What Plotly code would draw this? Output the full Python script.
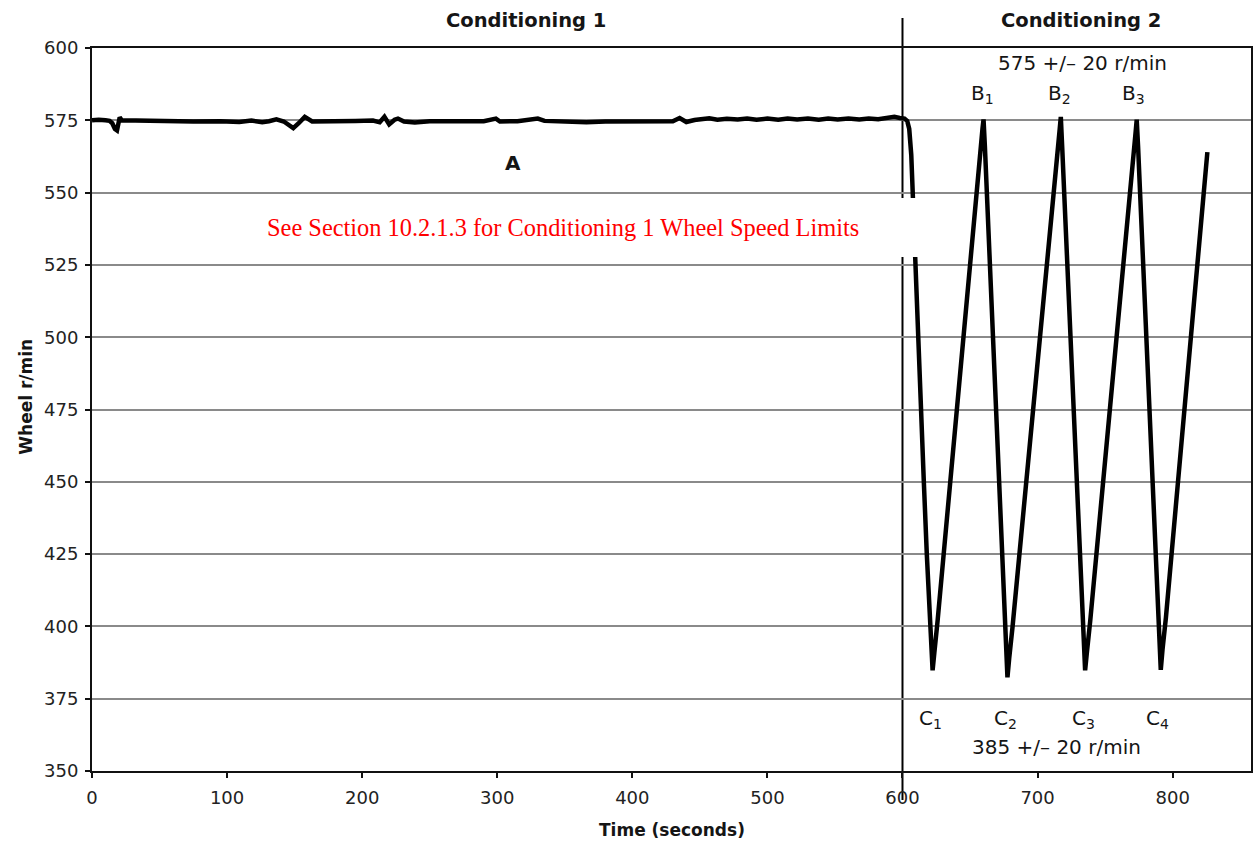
import plotly.graph_objects as go

# ---- data ----
time_s = [
    0, 5, 10, 13, 15, 17, 18.5, 19.5, 20.5, 22, 30, 45, 58, 75, 95, 109, 118, 126, 131,
    136.5, 142, 149, 153, 157.5, 163, 175, 195, 208, 213, 216.5, 220, 224, 226.5, 231,
    239, 250, 270, 290, 299, 302, 315, 330, 335, 350, 366, 380, 400, 420, 430, 435, 440,
    446, 452, 457, 463, 470, 478, 485, 492, 500, 508, 515, 522, 530, 538, 545, 552, 560,
    568, 575, 582, 590, 594, 598, 601.5, 603.5, 605, 606.5, 607.5, 610, 612, 613.8,
    615.8, 618, 620, 621.3, 622.3, 623.6, 626,
    659.2, 660.0, 661.0,
    676.6, 677.7, 679.0, 681.5,
    716.4, 717.2, 718.2,
    734.1, 735.2, 736.5, 739,
    772.6, 773.4, 774.4,
    790.1, 791.2, 792.5, 795,
    825.7,
]
wheel_rpm = [
    575.0, 575.2, 575.0, 574.8, 574.0, 572.0, 571.5, 574.0, 576.0, 575.0, 574.9, 574.8,
    574.5, 574.6, 574.7, 574.4, 574.9, 574.3, 574.7, 575.3, 574.6, 572.3, 574.0, 576.2,
    574.6, 574.8, 574.8, 574.9, 574.3, 576.2, 573.6, 575.2, 575.6, 574.6, 574.2, 574.7,
    574.8, 574.7, 575.6, 574.6, 574.7, 575.6, 574.8, 574.7, 574.3, 574.6, 574.7, 574.7,
    574.7, 575.8, 574.4, 575.1, 575.4, 575.7, 575.2, 575.5, 575.3, 575.6, 575.2, 575.6,
    575.2, 575.6, 575.3, 575.6, 575.2, 575.6, 575.3, 575.6, 575.3, 575.6, 575.4, 575.7,
    576.2, 575.8, 575.6, 574.8, 572.0, 563.0, 550.0, 525.0, 500.0, 475.0, 450.0, 425.0,
    405.0, 392.0, 384.8, 391.0, 402.0,
    572.0, 575.3, 566.0,
    392.0, 382.4, 389.0, 400.0,
    572.0, 576.2, 566.0,
    394.0, 384.8, 391.0, 402.0,
    571.0, 575.2, 566.0,
    394.0, 385.0, 392.0, 403.0,
    564.0,
]

x_ticks = [0, 100, 200, 300, 400, 500, 600, 700, 800]
y_ticks = [350, 375, 400, 425, 450, 475, 500, 525, 550, 575, 600]

phase_labels = ["Conditioning 1", "Conditioning 2"]
phase_label_x = [321, 732]
phase_boundary = 600

peak_labels = ["B<sub>1</sub>", "B<sub>2</sub>", "B<sub>3</sub>"]
peak_x = [659, 716, 771]
trough_labels = ["C<sub>1</sub>", "C<sub>2</sub>", "C<sub>3</sub>", "C<sub>4</sub>"]
trough_x = [621, 676, 734, 789]
upper_limit_text = "575 +/\u2013 20 r/min"
lower_limit_text = "385 +/\u2013 20 r/min"
note_text = "See Section 10.2.1.3 for Conditioning 1 Wheel Speed Limits"

FONT = "DejaVu Sans"
TXT = "#151515"

fig = go.Figure()
fig.add_trace(go.Scatter(
    x=time_s, y=wheel_rpm, mode="lines",
    line=dict(color="black", width=4.5),
    showlegend=False, hoverinfo="skip",
))

annotations = []
for txt, xx in zip(phase_labels, phase_label_x):
    annotations.append(dict(x=xx, xref="x", y=1.0387, yref="paper", text="<b>%s</b>" % txt,
                            showarrow=False, font=dict(family=FONT, size=19.5, color=TXT),
                            xanchor="center", yanchor="middle"))
for txt, xx in zip(peak_labels, peak_x):
    annotations.append(dict(x=xx, y=584, text=txt, showarrow=False,
                            font=dict(family=FONT, size=20, color=TXT),
                            xanchor="center", yanchor="middle"))
for txt, xx in zip(trough_labels, trough_x):
    annotations.append(dict(x=xx, y=368, text=txt, showarrow=False,
                            font=dict(family=FONT, size=20, color=TXT),
                            xanchor="center", yanchor="middle"))
annotations += [
    dict(x=733, y=594.8, text=upper_limit_text, showarrow=False,
         font=dict(family=FONT, size=20, color=TXT), xanchor="center", yanchor="middle"),
    dict(x=714, y=358.3, text=lower_limit_text, showarrow=False,
         font=dict(family=FONT, size=20, color=TXT), xanchor="center", yanchor="middle"),
    dict(x=312, y=560.3, text="<b>A</b>", showarrow=False,
         font=dict(family=FONT, size=20, color=TXT), xanchor="center", yanchor="middle"),
    dict(x=349, y=537.8, text=note_text, showarrow=False,
         font=dict(family="Liberation Serif", size=24.4, color="#ff0000"),
         xanchor="center", yanchor="middle"),
    dict(x=0.5, xref="paper", y=-0.082, yref="paper", text="<b>Time (seconds)</b>",
         showarrow=False, font=dict(family=FONT, size=17, color=TXT),
         xanchor="center", yanchor="middle"),
    dict(x=-0.0565, xref="paper", y=0.517, yref="paper", text="<b>Wheel r/min</b>",
         showarrow=False, textangle=-90, font=dict(family=FONT, size=17, color=TXT),
         xanchor="center", yanchor="middle"),
]

shapes = [
    # white box behind the note (drawn above the data)
    dict(type="rect", xref="x", yref="y", x0=117, x1=612.5, y0=527.7, y1=548.1,
         fillcolor="white", line=dict(width=0), layer="above"),
    # phase boundary
    dict(type="line", xref="x", yref="paper", x0=phase_boundary, x1=phase_boundary,
         y0=-0.040, y1=1.0415, line=dict(color="black", width=2), layer="below"),
]

fig.update_layout(
    width=1256, height=846,
    margin=dict(l=92, r=3, t=48, b=75, pad=0),
    paper_bgcolor="white", plot_bgcolor="white",
    font=dict(family=FONT, size=18, color="#222"),
    annotations=annotations, shapes=shapes,
    showlegend=False,
)
fig.update_xaxes(
    range=[0, 858], tickmode="array", tickvals=x_ticks,
    ticks="outside", ticklen=5, tickwidth=2, tickcolor="#111",
    showline=True, linecolor="#111", linewidth=2, mirror=True,
    showgrid=False, zeroline=False, tickfont=dict(family=FONT, size=18, color="#222"),
    ticklabelstandoff=4,
)
fig.update_yaxes(
    range=[350, 600], tickmode="array", tickvals=y_ticks,
    ticks="outside", ticklen=5, tickwidth=2, tickcolor="#111",
    showline=True, linecolor="#111", linewidth=2, mirror=True,
    showgrid=True, gridcolor="#8a8a8a", gridwidth=2, zeroline=False,
    tickfont=dict(family=FONT, size=18, color="#222"),
    ticklabelstandoff=3,
)

fig.write_html("out.html")
